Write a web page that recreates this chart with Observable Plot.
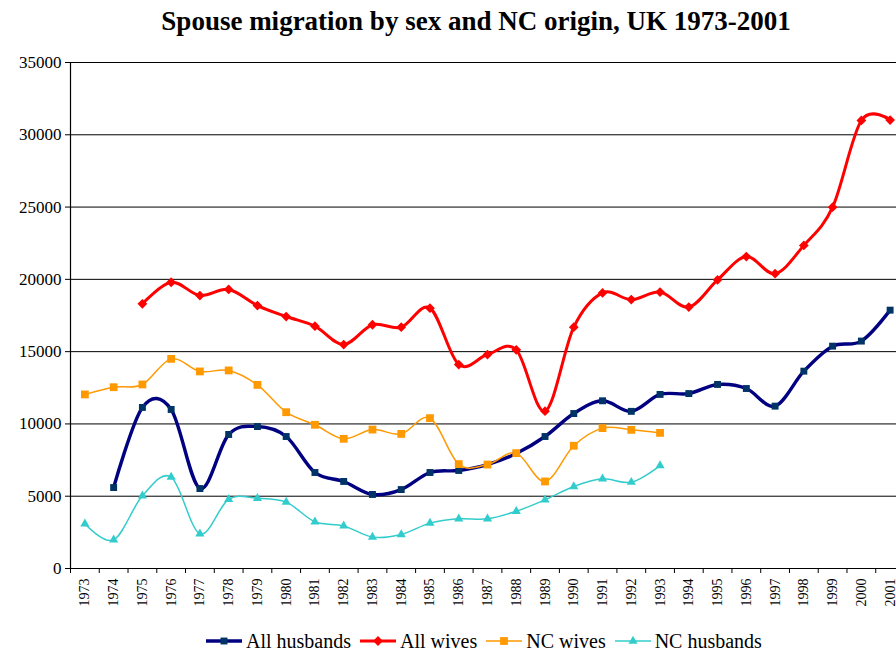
<!DOCTYPE html>
<html>
<head>
<meta charset="utf-8">
<script src="https://cdn.jsdelivr.net/npm/d3@7"></script>
<script src="https://cdn.jsdelivr.net/npm/@observablehq/plot@0.6"></script>
<style>
  html, body { margin: 0; padding: 0; background: #fff; }
  body { width: 896px; height: 653px; position: relative; overflow: hidden; font-family: "Liberation Serif", "Times New Roman", serif; }
  #title { position: absolute; left: 56px; width: 840px; top: 3px; text-align: center; font-weight: bold; font-size: 27px; line-height: 36px; color: #000; }
  #chart { position: absolute; left: 0; top: 45px; }
  #legend { position: absolute; left: 206px; top: 629px; height: 24px; display: flex; align-items: center; font-size: 20px; color: #000; white-space: nowrap; }
  .item { display: flex; align-items: center; margin-right: 9px; }
  .item svg { margin-right: 4px; }
</style>
</head>
<body>
<div id="title">Spouse migration by sex and NC origin, UK 1973-2001</div>
<div id="chart"></div>
<div id="legend"></div>
<script>
// ---- data ----
const years = [1973,1974,1975,1976,1977,1978,1979,1980,1981,1982,1983,1984,1985,1986,1987,1988,1989,1990,1991,1992,1993,1994,1995,1996,1997,1998,1999,2000,2001];
const allHusbands = [null,5600,11140,11000,5530,9270,9820,9130,6640,6020,5120,5460,6640,6780,7190,7950,9130,10720,11600,10870,12040,12100,12730,12450,11230,13650,15380,15730,17870];
const allWives = [null,null,18310,19800,18880,19300,18190,17430,16760,15490,16860,16690,18010,14110,14800,15130,10880,16690,19060,18600,19120,18080,19970,21580,20390,22350,24990,30990,31020];
const ncWives = [12040,12540,12730,14500,13630,13700,12700,10810,9940,8970,9610,9310,10400,7220,7190,7980,6020,8490,9710,9590,9380,null,null,null,null,null,null,null,null];
const ncHusbands = [3090,1980,5030,6320,2400,4790,4860,4590,3230,2950,2170,2350,3140,3440,3440,3960,4750,5670,6200,5970,7120,null,null,null,null,null,null,null,null];
const yTicks = [0,5000,10000,15000,20000,25000,30000,35000];

const seriesDefs = [
  {name: "All husbands", values: allHusbands, line: "#000080", fill: "#003366", width: 3.4, symbol: "square", r: 3.9},
  {name: "All wives", values: allWives, line: "#FF0000", fill: "#FF0000", width: 3, symbol: "diamond2", r: 4.4},
  {name: "NC wives", values: ncWives, line: "#FF9900", fill: "#FF9900", width: 1.5, symbol: "square", r: 4.4},
  {name: "NC husbands", values: ncHusbands, line: "#33CCCC", fill: "#33CCCC", width: 1.5, symbol: "triangle", r: 3.4}
];

const table = s => years.map((yr, i) => ({year: yr, value: s.values[i]})).filter(d => d.value != null);
const bounds = d3.range(years.length + 1).map(i => years[0] - 0.5 + i);

const marks = [
  Plot.ruleY(yTicks.filter(d => d > 0), {stroke: "#000", strokeWidth: 1}),
  Plot.axisY({ticks: yTicks, tickSize: 5, tickPadding: 4, tickFormat: d => String(d), fontSize: 17, label: null}),
  Plot.axisX({ticks: bounds, tickSize: 5, tickFormat: () => "", label: null}),
  Plot.axisX({ticks: years, tickSize: 0, tickPadding: 10, tickRotate: -90, tickFormat: d => String(d), fontSize: 14, label: null}),
  Plot.ruleY([0], {stroke: "#000", strokeWidth: 1.2}),
  Plot.ruleX([years[0] - 0.5], {stroke: "#000", strokeWidth: 1.2})
];
for (const s of seriesDefs) {
  marks.push(Plot.line(table(s), {x: "year", y: "value", stroke: s.line, strokeWidth: s.width, curve: "cardinal"}));
}
for (const s of seriesDefs) {
  marks.push(Plot.dot(table(s), {x: "year", y: "value", symbol: s.symbol, fill: s.fill, stroke: "none", r: s.r}));
}

const chart = Plot.plot({
  width: 896,
  height: 565,
  marginTop: 17,
  marginBottom: 42,
  marginLeft: 70,
  marginRight: 0,
  style: {fontFamily: "'Liberation Serif', 'Times New Roman', serif", color: "#000", background: "#fff", overflow: "visible"},
  x: {type: "linear", domain: [years[0] - 0.5, years[years.length - 1] + 0.5], range: [70, 904]},
  y: {type: "linear", domain: [0, 35000]},
  marks
});
document.getElementById("chart").appendChild(chart);

// ---- legend ----
const legend = document.getElementById("legend");
const symPath = {square: d3.symbolSquare, diamond2: d3.symbolDiamond2, triangle: d3.symbolTriangle};
for (const s of seriesDefs) {
  const item = document.createElement("div");
  item.className = "item";
  const svg = d3.create("svg").attr("width", 36).attr("height", 14);
  svg.append("line").attr("x1", 0).attr("x2", 36).attr("y1", 7).attr("y2", 7).attr("stroke", s.line).attr("stroke-width", s.width);
  svg.append("path").attr("transform", "translate(18,7)")
    .attr("d", d3.symbol(symPath[s.symbol], Math.PI * s.r * s.r)())
    .attr("fill", s.fill);
  item.appendChild(svg.node());
  const span = document.createElement("span");
  span.textContent = s.name;
  item.appendChild(span);
  legend.appendChild(item);
}
</script>
</body>
</html>
